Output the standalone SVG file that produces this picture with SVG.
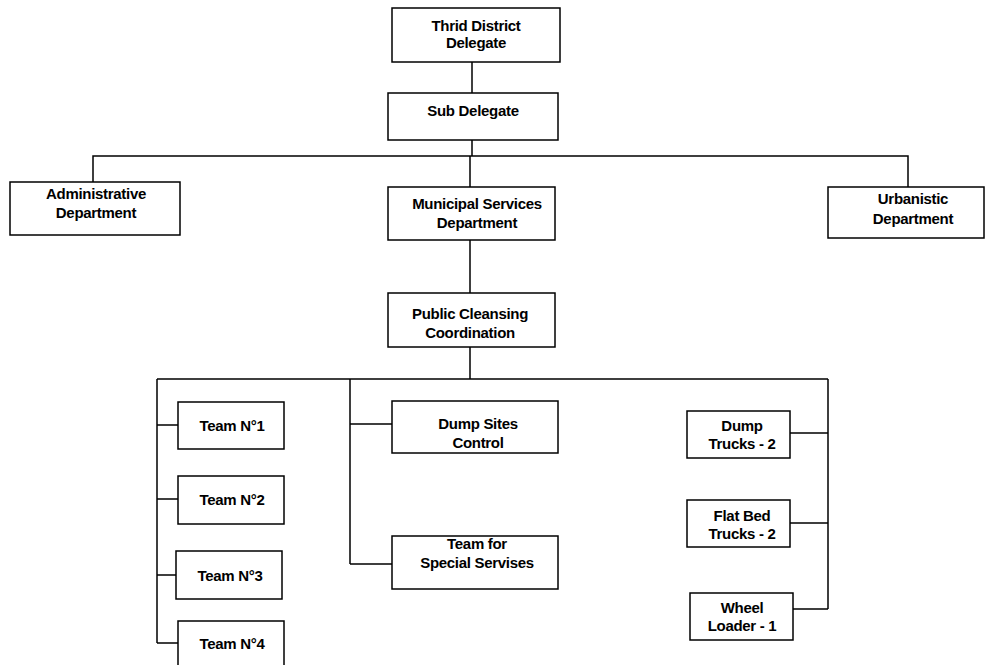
<svg xmlns="http://www.w3.org/2000/svg" width="986" height="665" viewBox="0 0 986 665">
<style>
.box{fill:#fff;stroke:#000;stroke-width:1.5}
.t{font-family:"Liberation Sans",Arial,sans-serif;font-weight:bold;font-size:15px;letter-spacing:-0.3px;text-anchor:middle;fill:#000}
.c{fill:none;stroke:#000;stroke-width:1.5}
</style>
<rect width="986" height="665" fill="#fff"/>
<g id="connectors">
<path class="c" d="M472 62V93"/>
<path class="c" d="M472 140V156M93 182V156H908V187M470 156V187"/>
<path class="c" d="M470 240V293"/>
<path class="c" d="M470 347V379M157 379H828"/>
<path class="c" d="M157 379V643M157 425H178M157 499H178M157 575H176M157 643H178"/>
<path class="c" d="M350 379V564M350 424H392M350 564H392"/>
<path class="c" d="M828 379V609M790 433H828M790 523H828M793 609H828"/>
</g>
<g id="n1"><rect class="box" x="392" y="8" width="168" height="54"/><text class="t" x="476" y="31">Thrid District</text><text class="t" x="476" y="48">Delegate</text></g>
<g id="n2"><rect class="box" x="388" y="93" width="170" height="47"/><text class="t" x="473" y="116">Sub Delegate</text></g>
<g id="n3"><rect class="box" x="10" y="182" width="170" height="53"/><text class="t" x="96" y="199">Administrative</text><text class="t" x="96" y="218">Department</text></g>
<g id="n4"><rect class="box" x="388" y="187" width="167" height="53"/><text class="t" x="477" y="209">Municipal Services</text><text class="t" x="477" y="228">Department</text></g>
<g id="n5"><rect class="box" x="828" y="187" width="156" height="51"/><text class="t" x="913" y="204">Urbanistic</text><text class="t" x="913" y="224">Department</text></g>
<g id="n6"><rect class="box" x="388" y="293" width="167" height="54"/><text class="t" x="470" y="319">Public Cleansing</text><text class="t" x="470" y="338">Coordination</text></g>
<g id="n7"><rect class="box" x="178" y="402" width="106" height="47"/><text class="t" x="232" y="431">Team N°1</text></g>
<g id="n8"><rect class="box" x="178" y="476" width="106" height="48"/><text class="t" x="232" y="505">Team N°2</text></g>
<g id="n9"><rect class="box" x="176" y="551" width="106" height="48"/><text class="t" x="230" y="581">Team N°3</text></g>
<g id="n10"><rect class="box" x="178" y="621" width="106" height="50"/><text class="t" x="232" y="649">Team N°4</text></g>
<g id="n11"><rect class="box" x="392" y="401" width="166" height="52"/><text class="t" x="478" y="429">Dump Sites</text><text class="t" x="478" y="448">Control</text></g>
<g id="n12"><rect class="box" x="392" y="536" width="166" height="53"/><text class="t" x="477" y="549">Team for</text><text class="t" x="477" y="568">Special Servises</text></g>
<g id="n13"><rect class="box" x="687" y="411" width="103" height="47"/><text class="t" x="742" y="431">Dump</text><text class="t" x="742" y="449">Trucks - 2</text></g>
<g id="n14"><rect class="box" x="687" y="500" width="103" height="47"/><text class="t" x="742" y="521">Flat Bed</text><text class="t" x="742" y="539">Trucks - 2</text></g>
<g id="n15"><rect class="box" x="690" y="593" width="103" height="47"/><text class="t" x="742" y="613">Wheel</text><text class="t" x="742" y="631">Loader - 1</text></g>
</svg>
